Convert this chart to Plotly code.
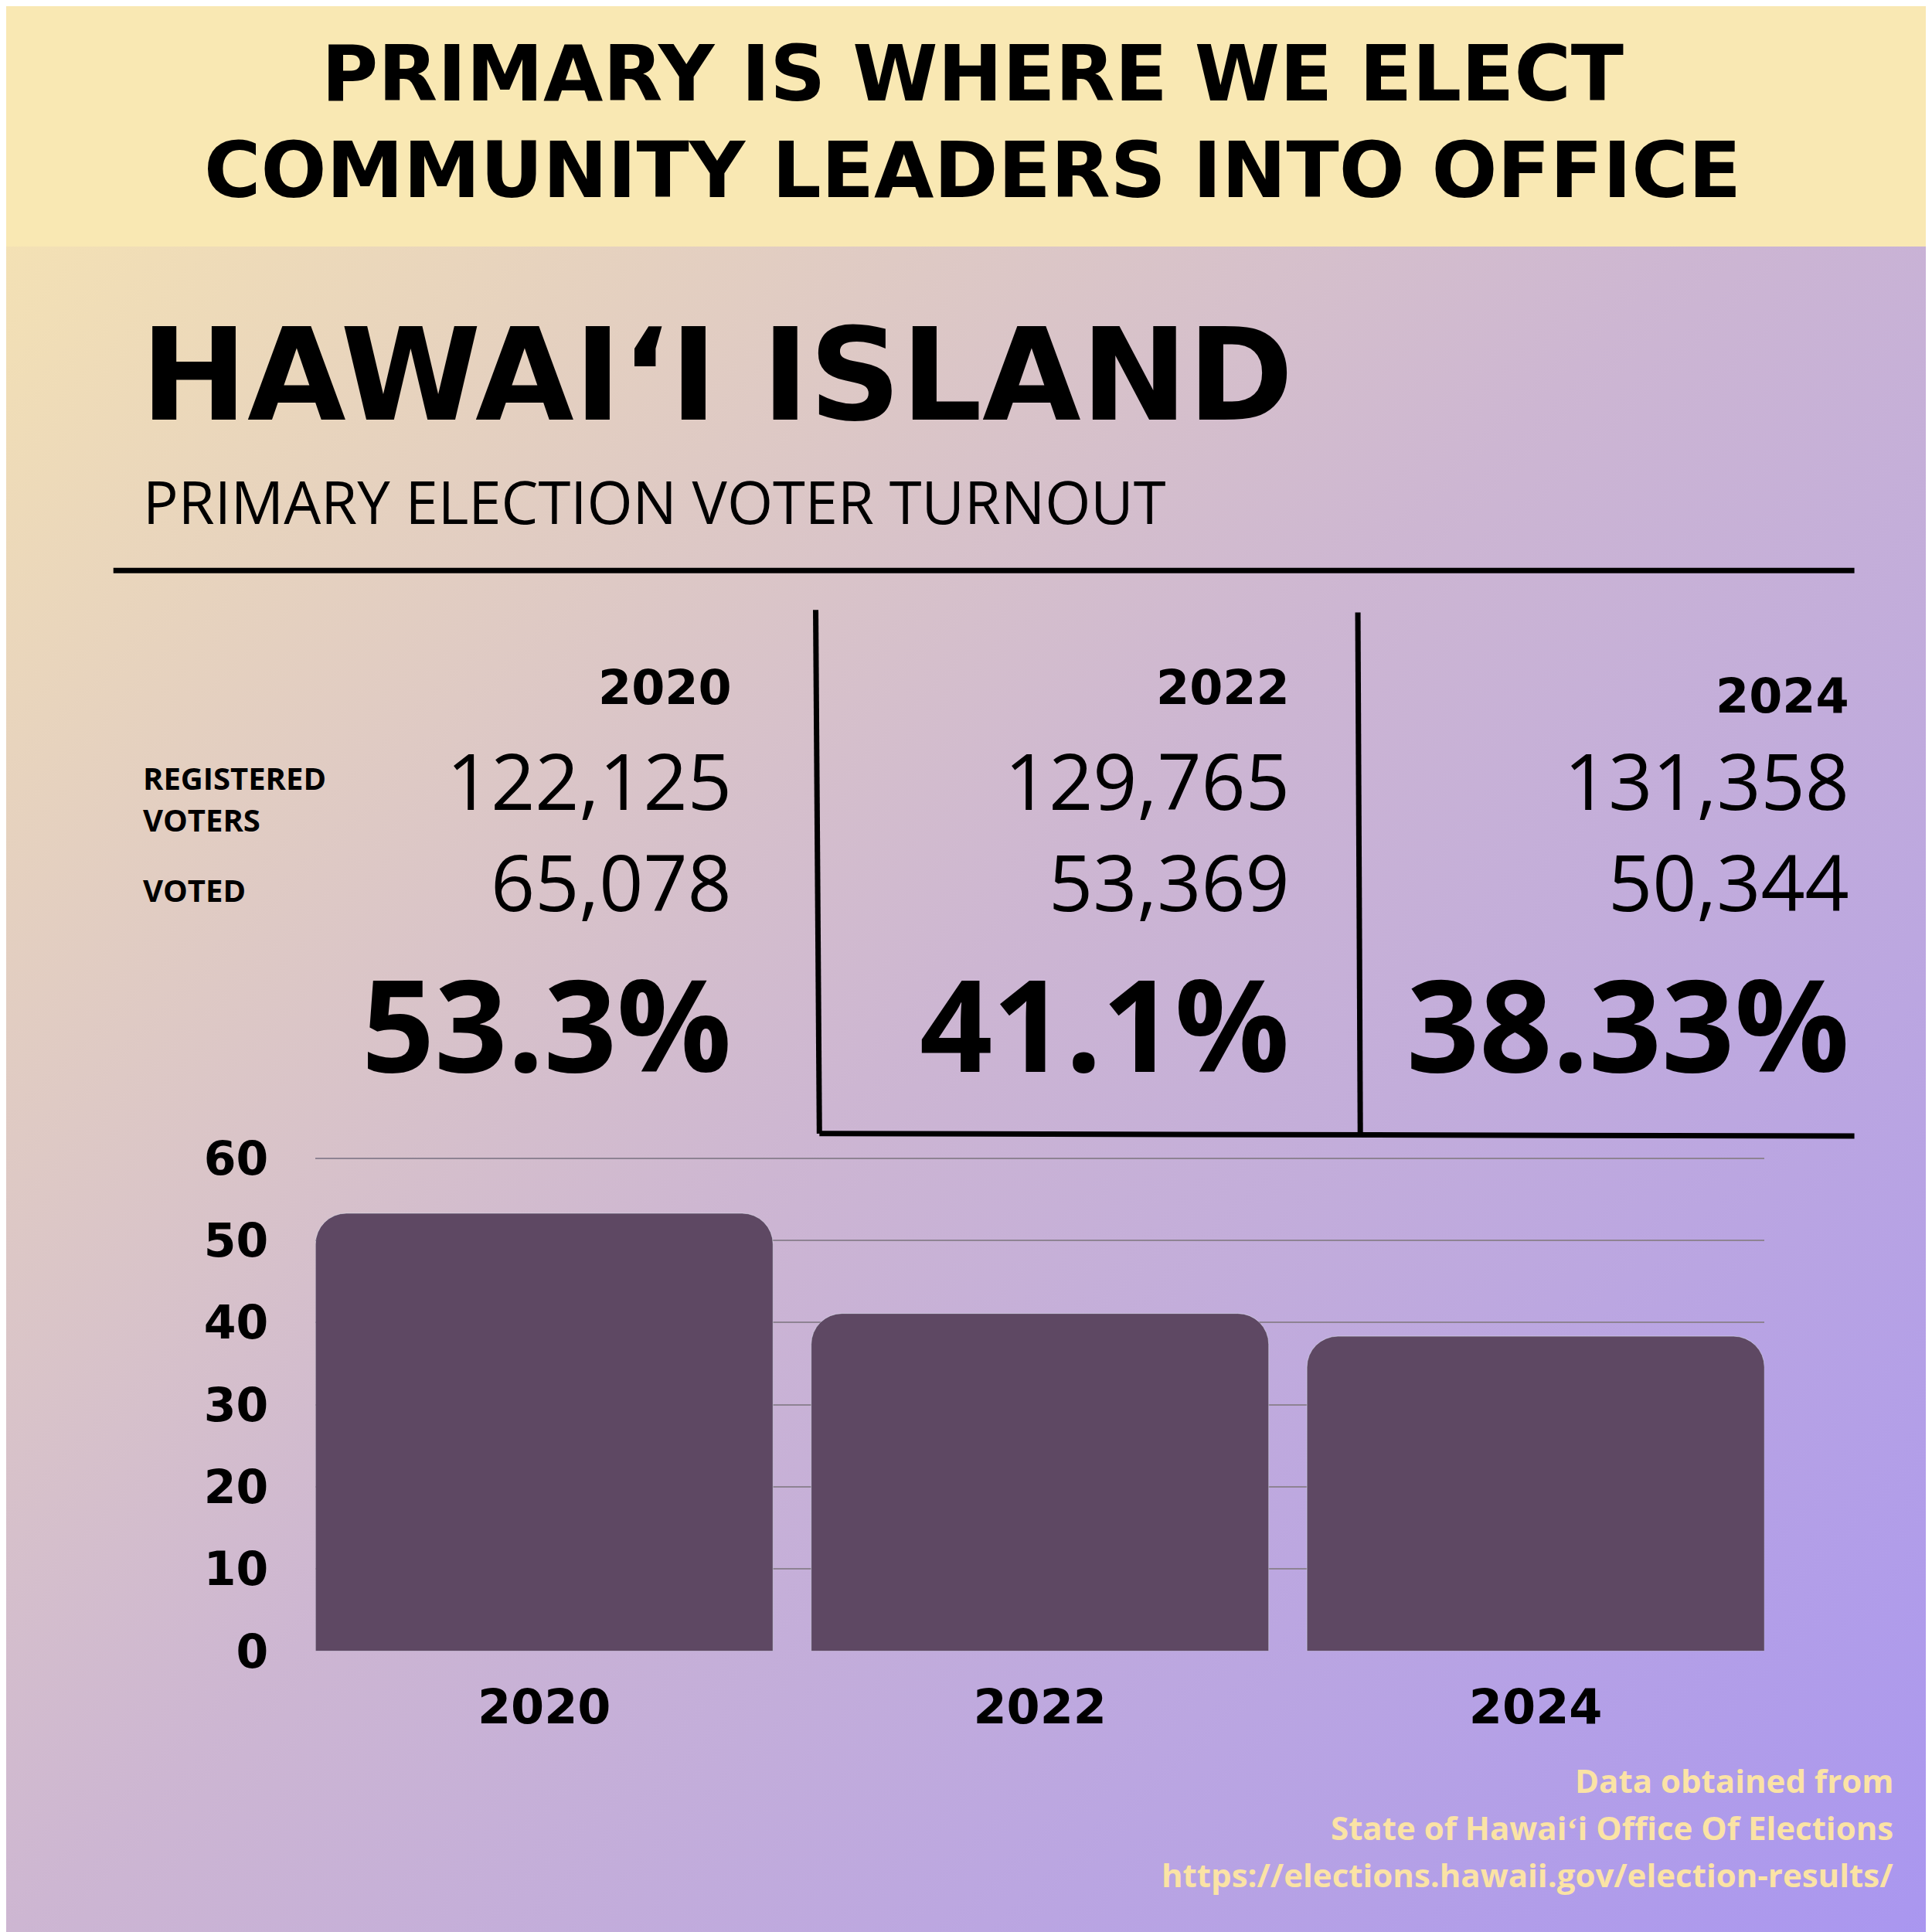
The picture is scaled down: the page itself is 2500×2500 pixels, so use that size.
import plotly.graph_objects as go
import base64

years = ["2020", "2022", "2024"]
turnout = [53.3, 41.1, 38.33]
registered = ["122,125", "129,765", "131,358"]
voted = ["65,078", "53,369", "50,344"]
pct_labels = ["53.3%", "41.1%", "38.33%"]
yticks = [0, 10, 20, 30, 40, 50, 60]

S = 1568.0
def px(x): return x / S
def py(y): return 1 - y / S

svg = ('<svg xmlns="http://www.w3.org/2000/svg" width="1000" height="1000">'
       '<defs><linearGradient id="g" x1="0" y1="0" x2="1" y2="1">'
       '<stop offset="0" stop-color="#F9E7B0"/><stop offset="0.5" stop-color="#CDB6D2"/>'
       '<stop offset="1" stop-color="#A996F0"/></linearGradient></defs>'
       '<rect width="1000" height="1000" fill="url(#g)"/></svg>')
src = "data:image/svg+xml;base64," + base64.b64encode(svg.encode()).decode()

ymax = 60.4
y0pix, y60pix = 1335, 935
ytop = y0pix - (y0pix - y60pix) * ymax / 60
gap = 0.077
half = (1 - gap) / 2

fig = go.Figure(go.Bar(x=years, y=turnout, marker_color="#5E4863"))
fig.update_layout(
    width=2500, height=2500, margin=dict(l=0, r=0, t=0, b=0, autoexpand=False),
    paper_bgcolor="#D0BCD0", plot_bgcolor="rgba(0,0,0,0)",
    showlegend=False, bargap=gap, barcornerradius=40,
    xaxis=dict(domain=[px(251), px(1427)], range=[-half, 2 + half], showgrid=False, zeroline=False,
               showline=False, automargin=False, ticklabelstandoff=30,
               tickfont=dict(family="DejaVu Sans", size=62, color="black", weight="bold"), ticklen=0),
    yaxis=dict(domain=[py(y0pix), py(ytop)], range=[0, ymax], tickvals=yticks, automargin=False,
               gridcolor="#8E8393", gridwidth=2, zeroline=False,
               tickfont=dict(family="DejaVu Sans", size=60, color="black", weight="bold"), ticklabelstandoff=60),
    images=[dict(source=src, xref="paper", yref="paper", x=0, y=1, sizex=1, sizey=1,
                 sizing="stretch", layer="below")],
)
shapes = [
    dict(type="rect", xref="paper", yref="paper", x0=0, x1=1, y0=py(195), y1=1,
         fillcolor="#F9E8B3", line_width=0, layer="below"),
    dict(type="line", x0=px(87), x1=px(1500), y0=py(458), y1=py(458)),
    dict(type="line", x0=px(657), x1=px(660), y0=py(490), y1=py(915)),
    dict(type="line", x0=px(1097), x1=px(1099), y0=py(492), y1=py(915)),
    dict(type="line", x0=px(660), x1=px(1500), y0=py(915), y1=py(917)),
]
for s in shapes:
    s.setdefault("xref", "paper"); s.setdefault("yref", "paper")
    if s["type"] == "line":
        s["line"] = dict(color="black", width=7)
fig.update_layout(shapes=shapes)

def txt(x, y, t, size, anchor="left", weight="normal", color="black", family="DejaVu Sans"):
    fig.add_annotation(x=px(x), y=py(y), xref="paper", yref="paper", text=t, showarrow=False,
                       xanchor=anchor, yanchor="middle",
                       font=dict(family=family, size=size, color=color, weight=weight))

txt(784, 55, "PRIMARY IS WHERE WE ELECT", 100, "center", "bold")
txt(784, 133, "COMMUNITY LEADERS INTO OFFICE", 100, "center", "bold")
txt(108, 300, "HAWAIʻI ISLAND", 165, "left", "bold")
txt(110, 402, "PRIMARY ELECTION VOTER TURNOUT", 76, "left", family="Open Sans")
txt(110, 626, "REGISTERED", 40, "left", "bold", family="Open Sans")
txt(110, 660, "VOTERS", 40, "left", "bold", family="Open Sans")
txt(110, 717, "VOTED", 40, "left", "bold", family="Open Sans")
rights = [590, 1043, 1497]
for i, r in enumerate(rights):
    txt(r, 553 if i < 2 else 560, years[i], 62, "right", "bold")
    txt(r, 628, registered[i], 100, "right", family="Open Sans")
    txt(r, 710, voted[i], 100, "right", family="Open Sans")
    txt(r, 825, pct_labels[i], 165, "right", "bold", family="Open Sans")
for i, t in enumerate(["Data obtained from", "State of Hawaiʻi Office Of Elections",
                       "https://elections.hawaii.gov/election-results/"]):
    txt(1533, 1440 + 38 * i, t, 42, "right", "bold", "#FBE3A5", "Open Sans")

fig.write_html("out.html")
